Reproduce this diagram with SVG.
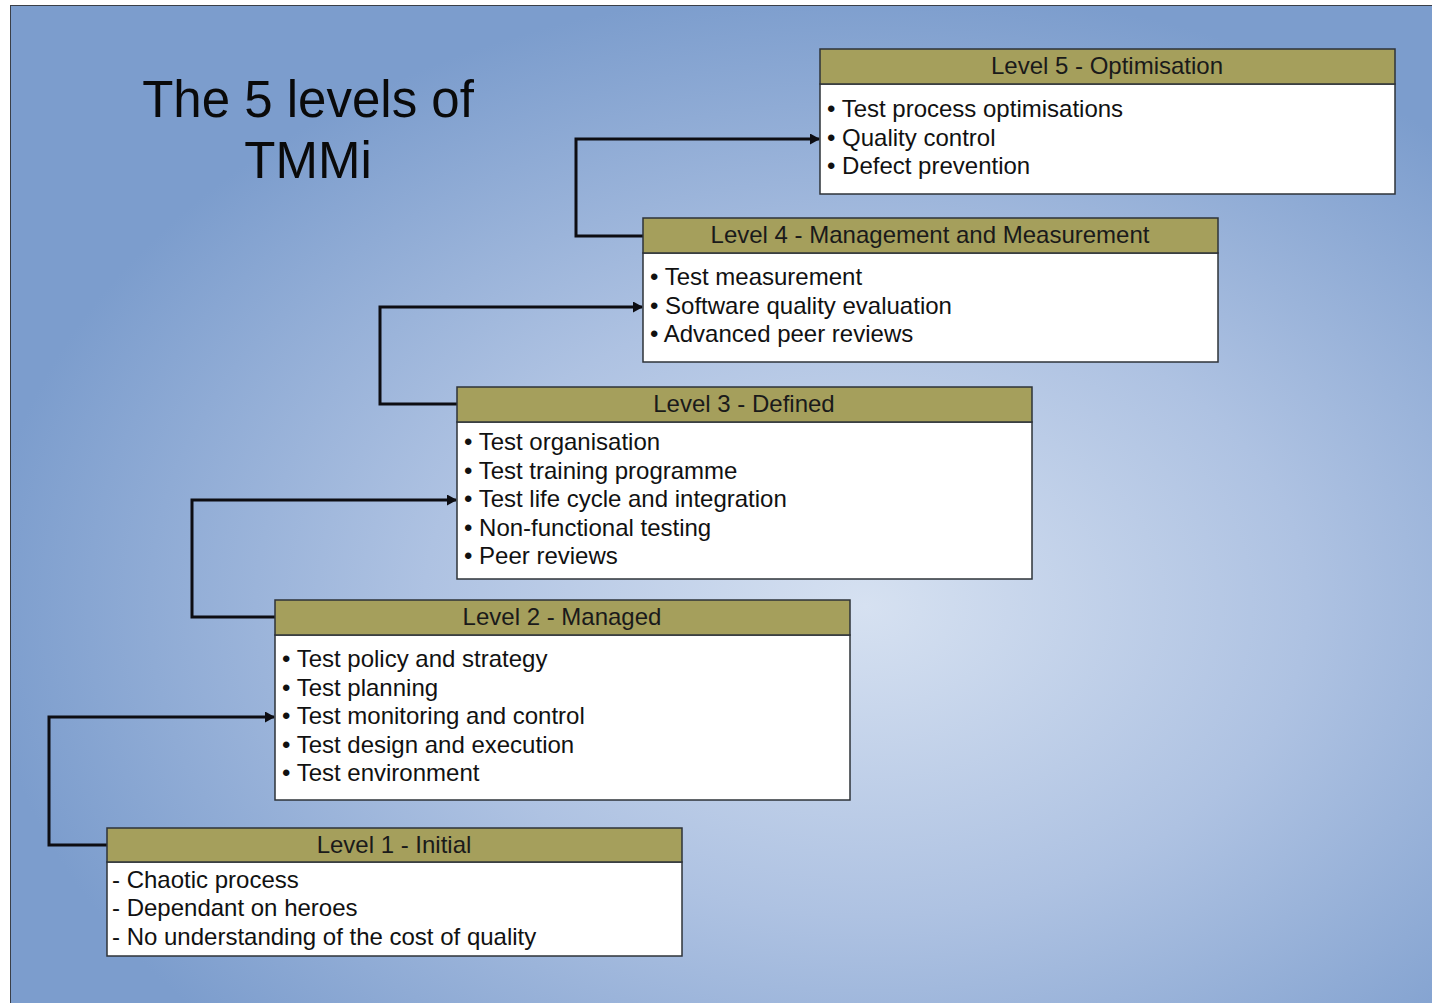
<svg xmlns="http://www.w3.org/2000/svg" width="1432" height="1003" viewBox="0 0 1432 1003">
<style>
.hdr{fill:#a59f5c;stroke:#2e3338;stroke-width:1.5}
.body{fill:#ffffff;stroke:#2e3338;stroke-width:1.5}
.ht{font-family:"Liberation Sans",Arial,sans-serif;font-size:24px;fill:#1a1a1a;text-anchor:middle}
.bt{font-family:"Liberation Sans",Arial,sans-serif;font-size:24px;fill:#111}
.title{font-family:"Liberation Sans",Arial,sans-serif;font-size:51px;fill:#0a0a0a;text-anchor:middle}
.conn{fill:none;stroke:#0d0d12;stroke-width:3;marker-end:url(#arr)}
</style>
<defs>
<radialGradient id="bg" cx="0.6" cy="0.6" r="0.62" fx="0.6" fy="0.6">
<stop offset="0" stop-color="#d6e1f1"/>
<stop offset="0.5" stop-color="#aec2e2"/>
<stop offset="1" stop-color="#7c9dcd"/>
</radialGradient>
<marker id="arr" markerWidth="10" markerHeight="11" refX="9" refY="5.5" orient="auto" markerUnits="userSpaceOnUse">
<path d="M0,0 L10,5.5 L0,11 Z" fill="#0d0d12"/>
</marker>
</defs>
<rect x="0" y="0" width="1432" height="1003" fill="#ffffff"/>
<rect x="10.5" y="5.5" width="1425" height="1001" fill="url(#bg)" stroke="#3a3f48" stroke-width="1"/>
<g id="title">
<text class="title" x="308" y="117">The 5 levels of</text>
<text class="title" x="308" y="178">TMMi</text>
</g>
<g id="connectors">
<path class="conn" d="M643,236 H576 V139 H819"/>
<path class="conn" d="M457,404 H380 V307 H642"/>
<path class="conn" d="M275,617 H192 V500 H456"/>
<path class="conn" d="M107,845 H49 V717 H274"/>
</g>
<g id="level5">
<rect class="body" x="820" y="84" width="575" height="110"/>
<rect class="hdr" x="820" y="49" width="575" height="35"/>
<text class="ht" x="1107" y="74">Level 5 - Optimisation</text>
<text class="bt" x="827" y="117">• Test process optimisations</text>
<text class="bt" x="827" y="146">• Quality control</text>
<text class="bt" x="827" y="174">• Defect prevention</text>
</g>
<g id="level4">
<rect class="body" x="643" y="253" width="575" height="109"/>
<rect class="hdr" x="643" y="218" width="575" height="35"/>
<text class="ht" x="930" y="243">Level 4 - Management and Measurement</text>
<text class="bt" x="650" y="285">• Test measurement</text>
<text class="bt" x="650" y="314">• Software quality evaluation</text>
<text class="bt" x="650" y="342">• Advanced peer reviews</text>
</g>
<g id="level3">
<rect class="body" x="457" y="422" width="575" height="157"/>
<rect class="hdr" x="457" y="387" width="575" height="35"/>
<text class="ht" x="744" y="412">Level 3 - Defined</text>
<text class="bt" x="464" y="450">• Test organisation</text>
<text class="bt" x="464" y="479">• Test training programme</text>
<text class="bt" x="464" y="507">• Test life cycle and integration</text>
<text class="bt" x="464" y="536">• Non-functional testing</text>
<text class="bt" x="464" y="564">• Peer reviews</text>
</g>
<g id="level2">
<rect class="body" x="275" y="635" width="575" height="165"/>
<rect class="hdr" x="275" y="600" width="575" height="35"/>
<text class="ht" x="562" y="625">Level 2 - Managed</text>
<text class="bt" x="282" y="667">• Test policy and strategy</text>
<text class="bt" x="282" y="696">• Test planning</text>
<text class="bt" x="282" y="724">• Test monitoring and control</text>
<text class="bt" x="282" y="753">• Test design and execution</text>
<text class="bt" x="282" y="781">• Test environment</text>
</g>
<g id="level1">
<rect class="body" x="107" y="862" width="575" height="94"/>
<rect class="hdr" x="107" y="828" width="575" height="34"/>
<text class="ht" x="394" y="853">Level 1 - Initial</text>
<text class="bt" x="112" y="888">- Chaotic process</text>
<text class="bt" x="112" y="916">- Dependant on heroes</text>
<text class="bt" x="112" y="945">- No understanding of the cost of quality</text>
</g>
</svg>
